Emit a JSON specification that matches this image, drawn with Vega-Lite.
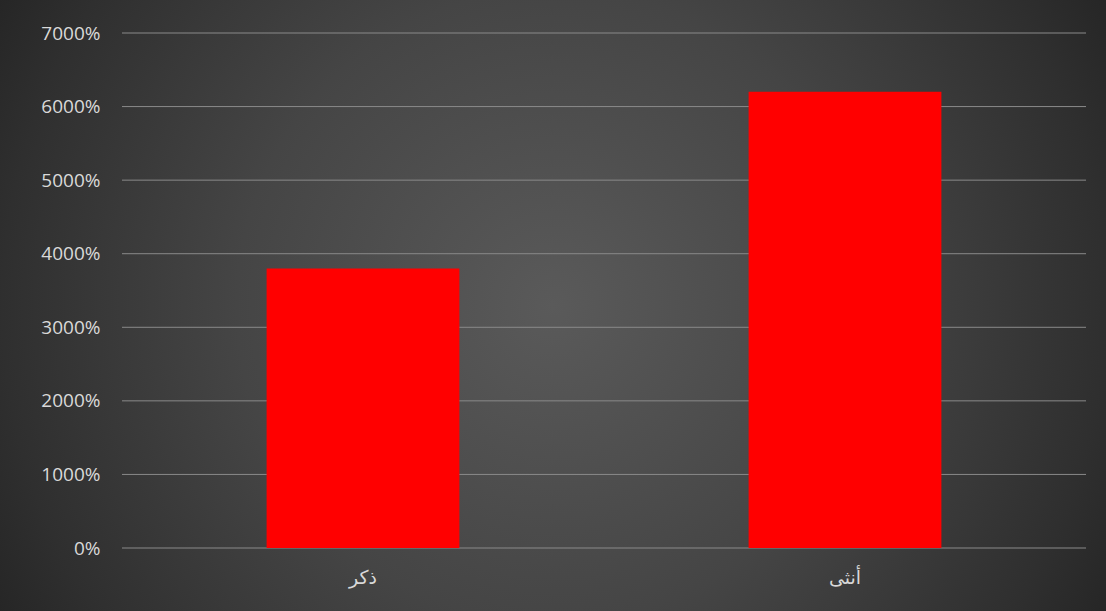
{
  "$schema": "https://vega.github.io/schema/vega-lite/v6.json",
  "width": 964,
  "height": 515,
  "autosize": {"type": "none"},
  "padding": {"left": 122, "top": 33, "right": 20, "bottom": 63},
  "background": "#262626",
  "config": {
    "view": {"stroke": null},
    "font": "Open Sans, DejaVu Sans, sans-serif"
  },
  "resolve": {"scale": {"x": "independent"}},
  "layer": [
    {
      "data": {"values": [{"bg": "panel"}]},
      "mark": {
        "type": "rect",
        "fill": {
          "gradient": "radial",
          "x1": 0.5, "y1": 0.5, "r1": 0,
          "x2": 0.5, "y2": 0.5, "r2": 0.572,
          "stops": [
            {"offset": 0, "color": "#5a5a5a"},
            {"offset": 0.5, "color": "#454545"},
            {"offset": 0.87, "color": "#2f2f2f"},
            {"offset": 1, "color": "#262626"}
          ]
        }
      },
      "encoding": {
        "x": {"datum": -0.12656, "type": "quantitative", "scale": {"domain": [0, 1], "nice": false, "zero": false}, "axis": null},
        "x2": {"datum": 1.02075},
        "y": {"datum": -8.563, "type": "quantitative"},
        "y2": {"datum": 74.485}
      }
    },
    {
      "data": {"values": [{"g": 0}, {"g": 10}, {"g": 20}, {"g": 30}, {"g": 40}, {"g": 50}, {"g": 60}, {"g": 70}]},
      "mark": {"type": "rule", "color": "#8a8a8a", "strokeWidth": 1},
      "encoding": {
        "y": {"field": "g", "type": "quantitative"}
      }
    },
    {
      "data": {"values": [
        {"gender": "ذكر", "value": 38},
        {"gender": "أنثى", "value": 62}
      ]},
      "mark": {"type": "bar", "color": "#ff0000"},
      "encoding": {
        "x": {
          "field": "gender", "type": "nominal", "sort": null,
          "scale": {"paddingInner": 0.6, "paddingOuter": 0.3},
          "axis": {
            "title": null, "domain": false, "ticks": false, "tickSize": 0,
            "labelAngle": 0, "labelPadding": 20, "labelFontSize": 19,
            "labelColor": "#d9d9d9", "zindex": 1
          }
        },
        "y": {
          "field": "value", "type": "quantitative",
          "scale": {"domain": [0, 70], "nice": false, "zero": true},
          "axis": {
            "title": null, "domain": false, "ticks": false, "tickSize": 0, "grid": false,
            "values": [0, 10, 20, 30, 40, 50, 60, 70],
            "labelExpr": "format(datum.value, '.0%')",
            "labelPadding": 22, "labelFontSize": 19, "labelColor": "#d9d9d9",
            "zindex": 1
          }
        }
      }
    }
  ]
}
